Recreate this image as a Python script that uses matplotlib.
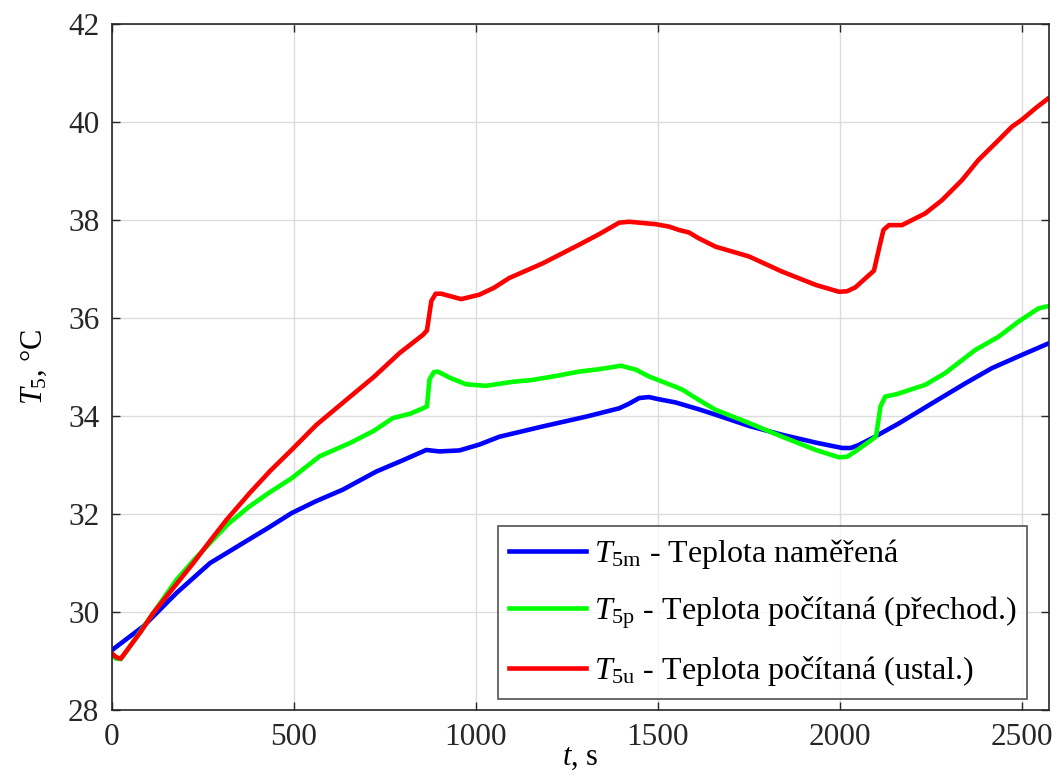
import matplotlib.pyplot as plt

plt.rcParams['font.family'] = ['Liberation Serif', 'DejaVu Serif']
plt.rcParams['mathtext.fontset'] = 'custom'
plt.rcParams['mathtext.rm'] = 'Liberation Serif'
plt.rcParams['mathtext.it'] = 'Liberation Serif:italic'

# measured temperature T5m
t_m = [0, 87, 178, 270, 361, 430, 494, 560, 635, 727, 800, 864, 900, 955, 1010,
       1065, 1184, 1303, 1394, 1420, 1449, 1476, 1500, 1549, 1613, 1659, 1751,
       1842, 1934, 2007, 2030, 2052, 2094, 2162, 2253, 2345, 2418, 2491, 2575]
T_m = [29.22, 29.71, 30.39, 31.0, 31.41, 31.72, 32.02, 32.26, 32.5, 32.87, 33.1,
       33.31, 33.28, 33.3, 33.42, 33.58, 33.79, 33.99, 34.16, 34.25, 34.37, 34.39,
       34.35, 34.28, 34.14, 34.03, 33.8, 33.62, 33.46, 33.35, 33.35, 33.41, 33.57,
       33.85, 34.26, 34.67, 34.98, 35.22, 35.49]

# computed temperature, transient T5p
t_p = [0, 12, 25, 50, 80, 114, 178, 224, 270, 320, 379, 435, 494, 571, 654, 720,
       772, 820, 855, 866, 873, 885, 896, 930, 974, 1028, 1100, 1156, 1220, 1284,
       1340, 1399, 1440, 1476, 1549, 1568, 1613, 1659, 1751, 1842, 1934, 1998,
       2020, 2043, 2094, 2100, 2112, 2125, 2157, 2235, 2290, 2372, 2436, 2491,
       2546, 2575]
T_p = [29.12, 29.05, 29.04, 29.3, 29.62, 29.98, 30.66, 31.05, 31.41, 31.8, 32.16,
       32.45, 32.73, 33.18, 33.45, 33.7, 33.96, 34.05, 34.16, 34.2, 34.75, 34.9,
       34.91, 34.78, 34.65, 34.62, 34.7, 34.74, 34.82, 34.91, 34.96, 35.03, 34.95,
       34.81, 34.6, 34.54, 34.33, 34.13, 33.86, 33.58, 33.31, 33.16, 33.17, 33.28,
       33.55, 33.6, 34.2, 34.4, 34.45, 34.64, 34.88, 35.35, 35.62, 35.93, 36.2,
       36.25]

# computed temperature, steady state T5u
t_u = [0, 12, 25, 50, 80, 114, 170, 224, 270, 315, 379, 435, 494, 562, 644, 720,
       791, 855, 866, 878, 890, 905, 960, 1010, 1050, 1092, 1184, 1284, 1340, 1394,
       1421, 1494, 1531, 1559, 1586, 1613, 1659, 1751, 1842, 1934, 1998, 2020,
       2043, 2094, 2107, 2120, 2135, 2171, 2235, 2281, 2336, 2381, 2437, 2473,
       2500, 2540, 2575]
T_u = [29.16, 29.08, 29.05, 29.3, 29.6, 29.98, 30.5, 31.0, 31.45, 31.88, 32.43,
       32.88, 33.31, 33.82, 34.33, 34.8, 35.29, 35.66, 35.75, 36.35, 36.5, 36.5,
       36.39, 36.48, 36.62, 36.82, 37.12, 37.5, 37.72, 37.95, 37.97, 37.92, 37.87,
       37.8, 37.75, 37.63, 37.46, 37.26, 36.95, 36.68, 36.54, 36.55, 36.63, 36.97,
       37.39, 37.8, 37.9, 37.9, 38.14, 38.41, 38.82, 39.23, 39.64, 39.91, 40.05,
       40.3, 40.5]

labels = [r'$T_{\rm 5m}$ - Teplota naměřená',
          r'$T_{\rm 5p}$ - Teplota počítaná (přechod.)',
          r'$T_{\rm 5u}$ - Teplota počítaná (ustal.)']

fig = plt.figure(figsize=(10.56, 7.8), dpi=100)
ax = fig.add_axes([0.1058, 0.0897, 0.8876, 0.8791])

ax.plot(t_m, T_m, color='#0000ff', lw=3.3, label=labels[0])
ax.plot(t_p, T_p, color='#00ff00', lw=3.3, label=labels[1])
ax.plot(t_u, T_u, color='#ff0000', lw=3.3, label=labels[2])

ax.set_xlim(0, 2575)
ax.set_ylim(28, 42)
ax.set_xticks([0, 500, 1000, 1500, 2000, 2500])
ax.set_yticks([28, 30, 32, 34, 36, 38, 40, 42])
ax.grid(True, color='#dcdcdc', lw=1)
ax.set_axisbelow(True)
ax.tick_params(direction='in', top=True, right=True, length=6, width=1,
               labelsize=22.5, colors='#262626', pad=9)
for s in ax.spines.values():
    s.set_color('#262626')
    s.set_linewidth(1.2)

ax.set_xlabel(r'$t$, s', fontsize=22, labelpad=-6)
ax.set_ylabel(r'$T_5$, °C', fontsize=22, labelpad=14)

leg = ax.legend(loc='lower right', bbox_to_anchor=(0.977, 0.016), fontsize=23,
                frameon=True, fancybox=False, edgecolor='#262626',
                handlelength=2.4, borderpad=0.35, labelspacing=0.72,
                handletextpad=0.25, borderaxespad=0)
leg.get_frame().set_linewidth(1.2)

fig.savefig('out.png', dpi=100)
